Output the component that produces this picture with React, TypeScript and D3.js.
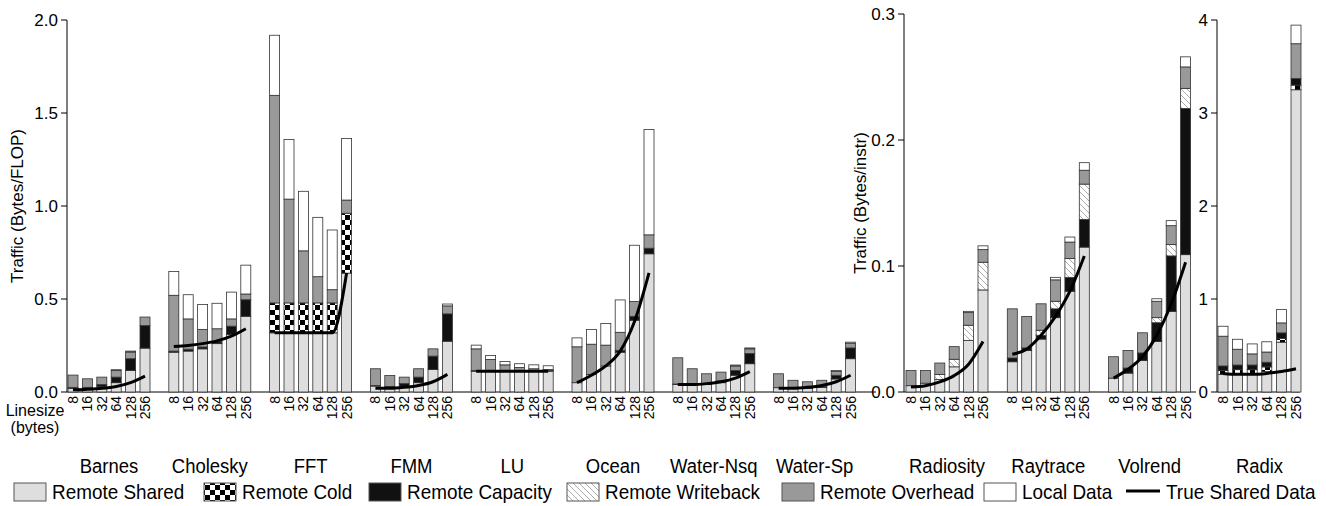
import React, { useEffect, useRef } from 'react';
import * as d3 from 'd3';

const lineSizes = ['8', '16', '32', '64', '128', '256'];
const series = ['Remote Shared', 'Remote Cold', 'Remote Capacity', 'Remote Writeback', 'Remote Overhead', 'Local Data'];
const fills = ['#dedede', 'url(#checker)', '#111', 'url(#hatch)', '#999', '#fff'];

// each bar: [shared, cold, capacity, writeback, overhead, local]
const barnes = [[0.02, 0, 0.005, 0, 0.066, 0], [0.02, 0, 0.005, 0, 0.046, 0], [0.03, 0, 0.01, 0, 0.04, 0], [0.05, 0, 0.03, 0, 0.035, 0.005], [0.116, 0, 0.063, 0, 0.036, 0.005], [0.236, 0, 0.121, 0, 0.046, 0]];
const cholesky = [[0.214, 0, 0.006, 0, 0.3, 0.128], [0.22, 0, 0.01, 0, 0.163, 0.13], [0.232, 0, 0.01, 0, 0.094, 0.135], [0.26, 0, 0.01, 0, 0.07, 0.137], [0.31, 0, 0.044, 0, 0.039, 0.144], [0.407, 0, 0.089, 0, 0.031, 0.155]];
const fft = [[0.318, 0.161, 0, 0, 1.116, 0.323], [0.318, 0.161, 0, 0, 0.558, 0.32], [0.318, 0.161, 0, 0, 0.28, 0.32], [0.318, 0.161, 0, 0, 0.141, 0.319], [0.318, 0.161, 0, 0, 0.071, 0.321], [0.639, 0.322, 0, 0, 0.071, 0.331]];
const fmm = [[0.032, 0, 0.003, 0, 0.09, 0], [0.03, 0, 0, 0, 0.059, 0], [0.03, 0, 0.015, 0, 0.035, 0], [0.05, 0, 0.03, 0, 0.045, 0], [0.121, 0, 0.072, 0, 0.039, 0], [0.273, 0, 0.147, 0, 0.043, 0.01]];
const lu = [[0.112, 0, 0.003, 0, 0.117, 0.02], [0.112, 0, 0.003, 0, 0.06, 0.021], [0.112, 0, 0.003, 0, 0.031, 0.018], [0.112, 0, 0.003, 0, 0.017, 0.02], [0.112, 0, 0.003, 0, 0.01, 0.021], [0.112, 0, 0.003, 0, 0.006, 0.02]];
const ocean = [[0.05, 0, 0, 0, 0.193, 0.048], [0.095, 0, 0, 0, 0.162, 0.079], [0.14, 0, 0, 0, 0.112, 0.116], [0.214, 0, 0.01, 0, 0.097, 0.174], [0.386, 0, 0.021, 0, 0.079, 0.303], [0.743, 0, 0.03, 0, 0.072, 0.566]];
const waterNsq = [[0.04, 0, 0.003, 0, 0.141, 0], [0.04, 0, 0, 0, 0.085, 0], [0.04, 0, 0.005, 0, 0.053, 0], [0.05, 0, 0.01, 0, 0.047, 0], [0.09, 0, 0.025, 0, 0.025, 0.005], [0.152, 0, 0.055, 0, 0.025, 0.005]];
const waterSp = [[0.023, 0, 0, 0, 0.075, 0], [0.02, 0, 0, 0, 0.043, 0], [0.02, 0, 0, 0, 0.035, 0], [0.025, 0, 0.003, 0, 0.035, 0], [0.07, 0, 0.02, 0, 0.02, 0.006], [0.179, 0, 0.058, 0, 0.025, 0.006]];
const radiosity = [[0.005, 0, 0, 0, 0.012, 0], [0.007, 0, 0, 0, 0.01, 0], [0.01, 0, 0, 0.004, 0.009, 0], [0.02, 0, 0, 0.006, 0.01, 0], [0.041, 0, 0, 0.012, 0.01, 0.001], [0.081, 0, 0, 0.022, 0.01, 0.003]];
const raytrace = [[0.024, 0, 0.003, 0, 0.039, 0], [0.033, 0, 0.002, 0, 0.025, 0], [0.042, 0, 0.003, 0.004, 0.021, 0], [0.059, 0, 0.007, 0.006, 0.017, 0.002], [0.08, 0, 0.011, 0.015, 0.013, 0.004], [0.115, 0, 0.022, 0.028, 0.011, 0.006]];
const volrend = [[0.011, 0, 0, 0, 0.017, 0], [0.015, 0, 0.004, 0, 0.014, 0], [0.025, 0, 0.006, 0, 0.016, 0], [0.04, 0, 0.015, 0.004, 0.013, 0.002], [0.064, 0, 0.044, 0.009, 0.015, 0.004], [0.109, 0, 0.116, 0.016, 0.017, 0.008]];
const radix = [[0.19, 0.04, 0.05, 0, 0.32, 0.107], [0.19, 0.05, 0.05, 0, 0.17, 0.107], [0.19, 0.05, 0.05, 0, 0.12, 0.107], [0.22, 0.05, 0.05, 0, 0.11, 0.11], [0.536, 0.04, 0.06, 0, 0.107, 0.143], [3.25, 0.05, 0.07, 0, 0.375, 0.2]];

const trueShared = {
  Barnes: [0.012, 0.015, 0.02, 0.03, 0.05, 0.085],
  Cholesky: [0.245, 0.25, 0.26, 0.275, 0.3, 0.34],
  FFT: [0.318, 0.318, 0.318, 0.318, 0.318, 0.64],
  FMM: [0.02, 0.02, 0.025, 0.035, 0.055, 0.095],
  LU: [0.112, 0.112, 0.112, 0.112, 0.112, 0.112],
  Ocean: [0.05, 0.09, 0.14, 0.22, 0.38, 0.64],
  'Water-Nsq': [0.04, 0.04, 0.045, 0.055, 0.075, 0.11],
  'Water-Sp': [0.02, 0.02, 0.025, 0.035, 0.055, 0.09],
  Radiosity: [0.004, 0.005, 0.008, 0.013, 0.022, 0.04],
  Raytrace: [0.03, 0.034, 0.045, 0.06, 0.08, 0.108],
  Volrend: [0.011, 0.018, 0.028, 0.045, 0.07, 0.103],
  Radix: [0.2, 0.19, 0.19, 0.2, 0.22, 0.25],
};

const panels = [
  { apps: ['Barnes', 'Cholesky', 'FFT', 'FMM', 'LU', 'Ocean', 'Water-Nsq', 'Water-Sp'], data: [barnes, cholesky, fft, fmm, lu, ocean, waterNsq, waterSp], max: 2, ticks: [0, 0.5, 1, 1.5, 2], fmt: '.1f', axisX: 67, x0: 68, x1: 876, gStep: 100.8, bStep: 14.4, top: 20, label: 'Traffic (Bytes/FLOP)', labelX: 17 },
  { apps: ['Radiosity', 'Raytrace', 'Volrend'], data: [radiosity, raytrace, volrend], max: 0.3, ticks: [0, 0.1, 0.2, 0.3], fmt: '.1f', axisX: 904, x0: 906, x1: 1196, gStep: 101.3, bStep: 14.4, top: 14, label: 'Traffic (Bytes/instr)', labelX: 860 },
  { apps: ['Radix'], data: [radix], max: 4, ticks: [0, 1, 2, 3, 4], fmt: 'd', axisX: 1217, x0: 1218, x1: 1300, gStep: 100, bStep: 14.6, top: 20, label: '', labelX: 0 },
];

const legendSwatchX = [14, 204, 369, 567, 782, 984];

export default function App() {
  const ref = useRef<SVGSVGElement>(null);

  useEffect(() => {
    const svg = d3.select(ref.current);
    svg.selectAll('*').remove();
    svg.attr('width', 1326).attr('height', 506).style('font-family', 'Liberation Sans, Arial, sans-serif');

    const defs = svg.append('defs');
    const ch = defs.append('pattern').attr('id', 'checker').attr('width', 10).attr('height', 10).attr('patternUnits', 'userSpaceOnUse');
    ch.append('rect').attr('width', 10).attr('height', 10).attr('fill', '#fff');
    ch.append('rect').attr('width', 5).attr('height', 5).attr('fill', '#000');
    ch.append('rect').attr('x', 5).attr('y', 5).attr('width', 5).attr('height', 5).attr('fill', '#000');
    const ht = defs.append('pattern').attr('id', 'hatch').attr('width', 6).attr('height', 6).attr('patternUnits', 'userSpaceOnUse');
    ht.append('rect').attr('width', 6).attr('height', 6).attr('fill', '#fff');
    ht.append('path').attr('d', 'M0,0 L6,6 M-1,5 L1,7 M5,-1 L7,1').attr('stroke', '#888').attr('stroke-width', 0.7);

    const baseY = 392;
    const barW = 10;

    panels.forEach(p => {
      const y = d3.scaleLinear().domain([0, p.max]).range([baseY, p.top]);
      const g = svg.append('g');
      g.append('line').attr('x1', p.axisX).attr('x2', p.axisX).attr('y1', p.top).attr('y2', baseY).attr('stroke', '#000');
      g.append('line').attr('x1', p.axisX).attr('x2', p.x1).attr('y1', baseY).attr('y2', baseY).attr('stroke', '#000');
      p.ticks.forEach(t => {
        g.append('line').attr('x1', p.axisX - 6).attr('x2', p.axisX).attr('y1', y(t)).attr('y2', y(t)).attr('stroke', '#000');
        g.append('text').attr('x', p.axisX - 9).attr('y', y(t)).attr('dy', '0.35em').attr('text-anchor', 'end')
          .style('font-size', '17px').text(d3.format(p.fmt)(t));
      });
      if (p.label) {
        g.append('text').attr('transform', `translate(${p.labelX},${(p.top + baseY) / 2}) rotate(-90)`)
          .attr('text-anchor', 'middle').attr('dy', '0.35em').style('font-size', '17px').text(p.label);
      }
      p.apps.forEach((app, gi) => {
        const bx = d3.scaleLinear().domain([0, 1]).range([p.x0 + gi * p.gStep, p.x0 + gi * p.gStep + p.bStep]);
        p.data[gi].forEach((vals, bi) => {
          let acc = 0;
          vals.forEach((v, si) => {
            if (v <= 0) return;
            g.append('rect').attr('x', bx(bi)).attr('width', barW).attr('y', y(acc + v)).attr('height', y(acc) - y(acc + v))
              .attr('fill', fills[si]).attr('stroke', '#333').attr('stroke-width', 0.8);
            acc += v;
          });
          g.append('text').attr('transform', `translate(${bx(bi) + barW / 2},${baseY + 4}) rotate(-90)`)
            .attr('text-anchor', 'end').attr('dy', '0.35em').style('font-size', '14px').text(lineSizes[bi]);
        });
        const line = d3.line<number>().x((_, i) => bx(i) + barW / 2).y(d => y(d)).curve(d3.curveMonotoneX);
        g.append('path').attr('d', line(trueShared[app])).attr('fill', 'none').attr('stroke', '#000').attr('stroke-width', 3);
        g.append('text').attr('transform', `translate(${bx(2.5) + barW / 2},473) scale(0.88,1)`).attr('text-anchor', 'middle')
          .style('font-size', '21px').text(app);
      });
    });

    svg.append('text').attr('x', 35).attr('y', 416).attr('text-anchor', 'middle').style('font-size', '16px').text('Linesize');
    svg.append('text').attr('x', 35).attr('y', 433).attr('text-anchor', 'middle').style('font-size', '16px').text('(bytes)');

    series.forEach((s, i) => {
      const x = legendSwatchX[i];
      svg.append('rect').attr('x', x).attr('y', 483).attr('width', 32).attr('height', 18).attr('fill', fills[i]).attr('stroke', '#555');
      svg.append('text').attr('transform', `translate(${x + 38},492) scale(0.9,1)`).attr('dy', '0.35em').style('font-size', '21px').text(s);
    });
    svg.append('line').attr('x1', 1126).attr('x2', 1160).attr('y1', 491).attr('y2', 491).attr('stroke', '#000').attr('stroke-width', 3);
    svg.append('text').attr('transform', 'translate(1166,492) scale(0.9,1)').attr('dy', '0.35em').style('font-size', '21px').text('True Shared Data');
  }, []);

  return <svg ref={ref} style={{ position: 'absolute', left: 0, top: 0 }}></svg>;
}
